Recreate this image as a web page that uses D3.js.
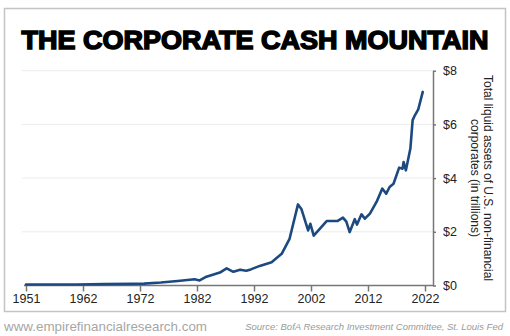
<!DOCTYPE html>
<html><head><meta charset="utf-8">
<script src="https://cdn.jsdelivr.net/npm/d3@7"></script>
<style>
html,body{margin:0;padding:0;background:#fff;}
svg{display:block;}
</style></head>
<body>
<svg id="c" width="510" height="336"></svg>
<script>
const years = [1951,1955,1960,1965,1970,1972,1975,1978,1981,1981.9,1983.1,1985.5,1986.7,1987.9,1989.1,1990.2,1991,1992.6,1994.7,1996.5,1997.9,1999.4,2000.0,2001.2,2001.6,2002.2,2004.5,2006.4,2007.4,2008.0,2008.6,2009.5,2009.9,2010.7,2011.3,2012.2,2013.4,2014.4,2015.1,2015.7,2016.4,2017.4,2018.0,2018.2,2018.6,2019.4,2019.8,2020.2,2020.8,2021.6];
const values = [0.04,0.04,0.04,0.05,0.06,0.07,0.11,0.17,0.23,0.19,0.33,0.48,0.64,0.51,0.59,0.55,0.60,0.73,0.87,1.18,1.74,3.02,2.85,2.05,2.30,1.86,2.40,2.40,2.53,2.38,1.99,2.47,2.27,2.65,2.49,2.68,3.12,3.61,3.42,3.67,3.79,4.39,4.35,4.60,4.29,5.10,6.16,6.34,6.56,7.21];
const xTickLabels = ["1951","1962","1972","1982","1992","2002","2012","2022"];
const yTicks = [0,2,4,6,8];
const title = "THE CORPORATE CASH MOUNTAIN";
const yTitle = ["Total liquid assets of U.S. non-financial","corporates (in trillions)"];
const siteText = "www.empirefinancialresearch.com";
const sourceText = "Source: BofA Research Investment Committee, St. Louis Fed";

const svg = d3.select("#c");
const FONT = "'Liberation Sans', Arial, sans-serif";

// frame
svg.append("rect").attr("x",4.5).attr("y",8.5).attr("width",501).attr("height",303)
  .attr("fill","#fff").attr("stroke","#c4c4c4").attr("stroke-width",1.5);

// title
svg.append("text").attr("x",21.5).attr("y",48.5)
  .attr("font-family",FONT).attr("font-weight","bold").attr("font-size",26)
  .attr("fill","#000").attr("stroke","#000").attr("stroke-width",1.5)
  .attr("textLength",467).attr("lengthAdjust","spacingAndGlyphs")
  .text(title);

const x = d3.scaleLinear().domain([1951,2022]).range([26,425]);
const y = d3.scaleLinear().domain([0,8]).range([285.5,70.7]);
const axisX = 433;

// gridlines
svg.append("g").selectAll("line").data(yTicks.filter(d=>d>0)).join("line")
  .attr("x1",22).attr("x2",axisX).attr("y1",d=>y(d)).attr("y2",d=>y(d))
  .attr("stroke","#ececec").attr("stroke-width",1);

// x axis with evenly spaced ticks
const xTickVals = xTickLabels.map((d,i)=>1951 + i*(2022-1951)/(xTickLabels.length-1));
const gx = svg.append("g").attr("transform",`translate(0,${y(0)})`)
  .call(d3.axisBottom(x).tickValues(xTickVals).tickFormat((d,i)=>xTickLabels[i]).tickSize(6).tickSizeOuter(0).tickPadding(3));
gx.select(".domain").remove();
gx.selectAll(".tick line").attr("stroke","#777").attr("stroke-width",1.5);
gx.selectAll(".tick text").attr("font-family",FONT).attr("font-size",12.5).attr("fill","#222");
svg.append("line").attr("x1",24).attr("x2",axisX+1).attr("y1",y(0)).attr("y2",y(0))
  .attr("stroke","#777").attr("stroke-width",1.5);

// y axis on right
const gy = svg.append("g").attr("transform",`translate(${axisX},0)`)
  .call(d3.axisRight(y).tickValues(yTicks).tickFormat(d=>"$"+d).tickSize(3).tickSizeOuter(0).tickPadding(7));
gy.select(".domain").attr("stroke","#777").attr("stroke-width",1.5);
gy.selectAll(".tick line").attr("stroke","#777").attr("stroke-width",1.5);
gy.selectAll(".tick text").attr("font-family",FONT).attr("font-size",12.5).attr("fill","#222");

// y title rotated
const yt = svg.append("text").attr("transform","translate(484,178) rotate(90)")
  .attr("text-anchor","middle").attr("font-family",FONT).attr("font-size",12).attr("fill","#222");
yTitle.forEach((t,i)=>yt.append("tspan").attr("x",0).attr("dy",i===0?"0":"1.08em").text(t));

// line
const line = d3.line().x((d,i)=>x(years[i])).y(d=>y(d)).curve(d3.curveLinear);
svg.append("path").datum(values).attr("d",line).attr("fill","none")
  .attr("stroke","#1c4a80").attr("stroke-width",2.6).attr("stroke-linejoin","round").attr("stroke-linecap","round");

// footer
svg.append("text").attr("x",4).attr("y",331).attr("font-family",FONT).attr("font-size",13.5)
  .attr("textLength",203).attr("lengthAdjust","spacingAndGlyphs")
  .attr("fill","#a6a6a6").text(siteText);
svg.append("text").attr("x",503).attr("y",330).attr("text-anchor","end").attr("font-family",FONT)
  .attr("font-size",9.5).attr("font-style","italic").attr("fill","#9a9a9a").text(sourceText);
</script>
</body></html>
